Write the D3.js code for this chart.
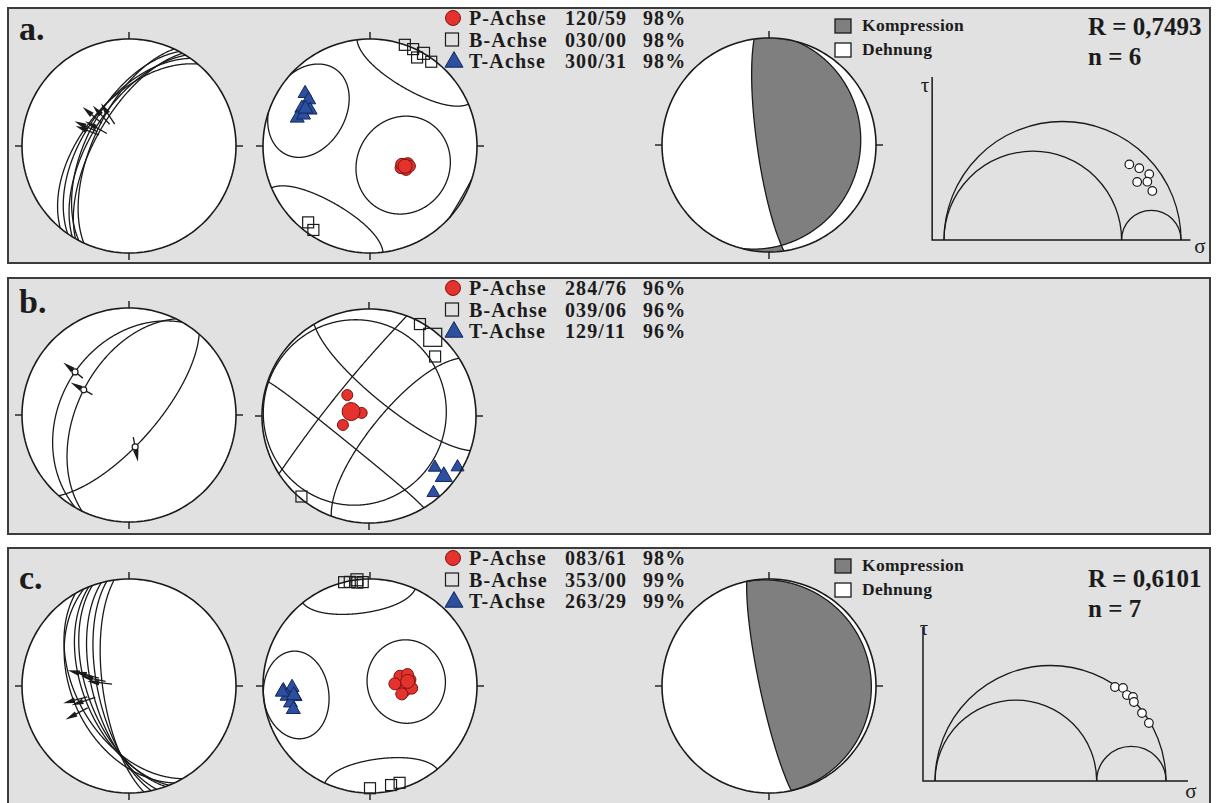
<!DOCTYPE html>
<html lang="de">
<head>
<meta charset="utf-8">
<title>Störungsflächenanalyse</title>
<script src="https://cdn.jsdelivr.net/npm/d3@7/dist/d3.min.js"></script>
<style>
  html, body { margin: 0; padding: 0; background: #ffffff; }
  svg { display: block; }
  .bold { font-family: "Liberation Serif", "Times New Roman", serif; font-weight: bold; fill: #1c1c1c; }
  .greek { font-family: "Liberation Serif", "Times New Roman", serif; fill: #1c1c1c; }
</style>
</head>
<body>
<svg id="fig" width="1216" height="803"></svg>
<script>
// ---------------- data ----------------
const panelLetters = ["a.", "b.", "c."];
const axisNames = ["P-Achse", "B-Achse", "T-Achse"];
const sectorNames = ["Kompression", "Dehnung"];

// Panel a -- mean axes [trend, plunge] (P, B, T), confidence %, cone half-angles
const meanAxesA = [[120, 59], [30, 0], [300, 31]];
const confA = [98, 98, 98];
const coneA = [37, 37, 33];
const pAxesA = [[118, 60], [123, 57], [115, 58], [125, 61], [120, 62], [117, 56]];
const bAxesA = [[19, 0], [24, 1], [28, 7], [36, 3], [219, 9], [214, 6]];
const tAxesA = [[309, 23], [307, 29], [299, 28], [301, 35], [291, 28], [295, 32]];
// fault planes [dip direction, dip, rake]
const faultsA = [[295, 63, 92], [298, 58, 86], [302, 61, 98], [305, 56, 84], [300, 65, 102], [310, 55, 90]];
// nodal planes [dip direction, dip]
const nodalA = [[262, 81], [105, 16]];
const ratioA = 0.7493, countA = 6;
const mohrA = [[0.782, 0.319], [0.824, 0.303], [0.866, 0.278], [0.815, 0.245], [0.858, 0.246], [0.879, 0.207]];

// Panel b
const meanAxesB = [[284, 76], [39, 6], [129, 11]];
const confB = [96, 96, 96];
const coneB = [75, 70, 72];
const pAxesB = [[314, 67], [293, 84], [251, 69]];
const bAxesB = [[29, 2], [48, 18], [220, 2]];
const tAxesB = [[128, 23], [120, 5], [140, 7]];
const faultsB = [[300, 36, 97], [296, 50, 92], [131, 70, 105]];

// Panel c
const meanAxesC = [[83, 61], [353, 0], [263, 29]];
const confC = [98, 99, 99];
const coneC = [31, 32, 29];
const pAxesC = [[72, 66], [81, 59], [97, 63], [85, 71], [93, 58], [104, 65], [73, 60]];
const bAxesC = [[349, 1], [353, 3], [356, 3], [346, 0], [180, 5], [168, 6], [163, 6]];
const tAxesC = [[267, 20], [269, 28], [263, 23], [262, 30], [258, 25], [253, 26], [266, 19]];
const faultsC = [[262, 70, 95], [258, 66, 100], [255, 62, 105], [250, 58, 110], [248, 55, 92], [240, 50, 100], [245, 46, 88]];
const nodalC = [[258, 83], [78, 5]];
const ratioC = 0.6101, countC = 7;
const stressC = [0, 0.70, 1];   // σ3, σ2, σ1 (normalised)
const mohrC = [[0.779, 0.407], [0.814, 0.403], [0.831, 0.372], [0.857, 0.364], [0.861, 0.342], [0.896, 0.294], [0.926, 0.251]];

// ---------------- styling ----------------
const INK = "#1a1a1a";
const P_FILL = "#e5322d", P_EDGE = "#7d1512";
const T_FILL = "#2d4f9f", T_EDGE = "#13275e";
const SECTOR_GRAY = "#7f7f7f";
const PANEL_FILL = "#e1e1e1";
const NET_R = 107;

const svg = d3.select("#fig");
const defs = svg.append("defs");

// ---------------- helpers ----------------
const asGeo = ([trend, plunge]) => [trend, -plunge];          // line -> lon/lat (lower hemisphere = south)
const antipode = ([lon, lat]) => [lon + 180, -lat];
const fmtTP = ([t, p]) => d3.format("03d")(t) + "/" + d3.format("02d")(p);

function makeProjection(cx, cy) {
  return d3.geoAzimuthalEqualArea()
    .rotate([0, 90])                 // nadir in the centre (Schmidt net, lower hemisphere)
    .scale(NET_R / Math.SQRT2)
    .translate([cx, cy])
    .clipAngle(90)
    .precision(0.1);
}

function ringLine(center, radius) {
  const ring = d3.geoCircle().center(center).radius(radius).precision(0.5)().coordinates[0];
  return {type: "LineString", coordinates: ring};
}
const planePole = ([dd, dip]) => [dd + 180, dip - 90];

function netBase(g, proj) {
  const path = d3.geoPath(proj);
  g.append("path").datum({type: "Sphere"}).attr("d", path).attr("fill", "#fff");
  return path;
}
function netFrame(g, proj) {
  const path = d3.geoPath(proj);
  const [cx, cy] = proj.translate();
  g.append("path").datum({type: "Sphere"}).attr("d", path)
    .attr("fill", "none").attr("stroke", INK).attr("stroke-width", 1.6);
  [0, 90, 180, 270].forEach(az => {
    const a = az * Math.PI / 180, s = Math.sin(a), c = -Math.cos(a);
    g.append("line")
      .attr("x1", cx + NET_R * s).attr("y1", cy + NET_R * c)
      .attr("x2", cx + (NET_R + 7) * s).attr("y2", cy + (NET_R + 7) * c)
      .attr("stroke", INK).attr("stroke-width", 1.4);
  });
}

function lineation([dd, dip, rake]) {
  const s0 = [dd - 90, 0], d0 = [dd, -dip], s1 = [dd + 90, 0];
  return rake <= 90 ? d3.geoInterpolate(s0, d0)(rake / 90)
                    : d3.geoInterpolate(d0, s1)((rake - 90) / 90);
}

// fault planes with slip arrows
function faultNet(g, cx, cy, faults, ringed) {
  const proj = makeProjection(cx, cy);
  const path = netBase(g, proj);
  g.selectAll(null).data(faults).join("path")
    .attr("d", f => path(ringLine(planePole(f), 90)))
    .attr("fill", "none").attr("stroke", INK).attr("stroke-width", 1.3);
  faults.forEach(f => {
    const p = proj(lineation(f));
    let ux = p[0] - cx, uy = p[1] - cy;
    const len = Math.hypot(ux, uy) || 1; ux /= len; uy /= len;
    const nx = -uy, ny = ux;
    g.append("line")
      .attr("x1", p[0] - 10 * ux).attr("y1", p[1] - 10 * uy)
      .attr("x2", p[0] + 5 * ux).attr("y2", p[1] + 5 * uy)
      .attr("stroke", INK).attr("stroke-width", 1.3);
    g.append("path")
      .attr("d", `M${p[0] + 15 * ux},${p[1] + 15 * uy}L${p[0] + 3 * ux + 2.8 * nx},${p[1] + 3 * uy + 2.8 * ny}L${p[0] + 3 * ux - 2.8 * nx},${p[1] + 3 * uy - 2.8 * ny}Z`)
      .attr("fill", INK);
    if (ringed) {
      g.append("circle").attr("cx", p[0]).attr("cy", p[1]).attr("r", 3)
        .attr("fill", "#fff").attr("stroke", INK).attr("stroke-width", 1.2);
    }
  });
  netFrame(g, proj);
}

function markP(g, p, r) {
  g.append("circle").attr("cx", p[0]).attr("cy", p[1]).attr("r", r)
    .attr("fill", P_FILL).attr("stroke", P_EDGE).attr("stroke-width", 1);
}
function markB(g, p, s) {
  g.append("rect").attr("x", p[0] - s / 2).attr("y", p[1] - s / 2).attr("width", s).attr("height", s)
    .attr("fill", "none").attr("stroke", INK).attr("stroke-width", 1.2);
}
function markT(g, p, s) {
  g.append("path").attr("transform", `translate(${p[0]},${p[1]})`)
    .attr("d", d3.symbol(d3.symbolTriangle, Math.sqrt(3) / 4 * s * s)())
    .attr("fill", T_FILL).attr("stroke", T_EDGE).attr("stroke-width", 1);
}

// principal axes with confidence cones
function axesNet(g, cx, cy, means, cones, pAx, bAx, tAx, sz) {
  const proj = makeProjection(cx, cy);
  const path = netBase(g, proj);
  means.forEach((m, i) => {
    [asGeo(m), antipode(asGeo(m))].forEach(c => {
      g.append("path").attr("d", path(ringLine(c, cones[i])))
        .attr("fill", "none").attr("stroke", INK).attr("stroke-width", 1.3);
    });
  });
  const pos = a => proj(asGeo(a));
  bAx.forEach(a => markB(g, pos(a), sz.b));
  markB(g, pos(means[1]), sz.bm);
  tAx.forEach(a => markT(g, pos(a), sz.t));
  markT(g, pos(means[2]), sz.tm);
  pAx.forEach(a => markP(g, pos(a), sz.p));
  markP(g, pos(means[0]), sz.pm);
  netFrame(g, proj);
}

// fault plane solution (compression / extension dihedra)
let clipId = 0;
function ballNet(g, cx, cy, nodal) {
  const proj = makeProjection(cx, cy);
  const path = netBase(g, proj);
  const hemi = c => d3.geoCircle().center(c).radius(90).precision(0.5)();
  const pa = planePole(nodal[0]), pb = planePole(nodal[1]);
  [[pa, pb], [antipode(pa), antipode(pb)]].forEach(([ca, cb]) => {
    const id = "sector" + (clipId++);
    defs.append("clipPath").attr("id", id).append("path").attr("d", path(hemi(cb)));
    g.append("path").attr("d", path(hemi(ca))).attr("clip-path", `url(#${id})`)
      .attr("fill", SECTOR_GRAY);
  });
  nodal.forEach(n => {
    g.append("path").attr("d", path(ringLine(planePole(n), 90)))
      .attr("fill", "none").attr("stroke", INK).attr("stroke-width", 1.3);
  });
  netFrame(g, proj);
}

// Mohr circles
function mohr(g, o) {
  const x = d3.scaleLinear().domain([0, 1]).range([o.x0, o.x1]);
  const unit = o.x1 - o.x0;
  const y = d3.scaleLinear().domain([0, 1]).range([o.base, o.base - unit]);
  g.append("path")
    .attr("d", `M${x(o.sMin)},${y(o.tMax)}V${y(0)}H${x(o.sMax)}`)
    .attr("fill", "none").attr("stroke", INK).attr("stroke-width", 1.5);
  const [s3, s2, s1] = o.stress;
  [[s3, s1], [s3, s2], [s2, s1]].forEach(([a, b]) => {
    const p = d3.path();
    const cxp = x((a + b) / 2), r = x(b) - x((a + b) / 2);
    p.moveTo(x(a), y(0));
    p.arc(cxp, y(0), r, Math.PI, 2 * Math.PI);
    g.append("path").attr("d", p.toString()).attr("fill", "none")
      .attr("stroke", INK).attr("stroke-width", 1.3);
  });
  g.selectAll(null).data(o.pts).join("circle")
    .attr("cx", d => x(d[0])).attr("cy", d => y(d[1])).attr("r", 4.3)
    .attr("fill", "#fff").attr("stroke", INK).attr("stroke-width", 1.2);
  g.append("text").attr("class", "greek").attr("font-size", 21).attr("text-anchor", "middle")
    .attr("x", o.tauPos[0]).attr("y", o.tauPos[1]).text("τ");
  g.append("text").attr("class", "greek").attr("font-size", 21).attr("text-anchor", "middle")
    .attr("x", o.sigPos[0]).attr("y", o.sigPos[1]).text("σ");
}

function axesLegend(g, top, means, conf) {
  means.forEach((m, i) => {
    const cy = top + 10 + i * 21.5;
    if (i === 0) markP(g, [453, cy], 7.5);
    if (i === 1) markB(g, [452, cy], 13);
    if (i === 2) markT(g, [454, cy + 1], 18);
    const t = g.append("g").attr("class", "bold").attr("font-size", 20).attr("letter-spacing", 1.1);
    t.append("text").attr("x", 469).attr("y", cy + 7).text(axisNames[i]);
    t.append("text").attr("x", 565).attr("y", cy + 7).text(fmtTP(m));
    t.append("text").attr("x", 643).attr("y", cy + 7).text(conf[i] + "%");
  });
}
function sectorLegend(g, top) {
  [SECTOR_GRAY, "#fff"].forEach((f, i) => {
    g.append("rect").attr("x", 835).attr("y", top + 11 + i * 24).attr("width", 16).attr("height", 14)
      .attr("fill", f).attr("stroke", INK).attr("stroke-width", 1.3);
    g.append("text").attr("class", "bold").attr("font-size", 17.5).attr("letter-spacing", 0.3)
      .attr("x", 862).attr("y", top + 23 + i * 23.5).text(sectorNames[i]);
  });
}
function stats(g, yR, ratio, n) {
  const t = g.append("g").attr("class", "bold").attr("font-size", 25);
  t.append("text").attr("x", 1088).attr("y", yR).text("R = " + d3.format(".4f")(ratio).replace(".", ","));
  t.append("text").attr("x", 1088).attr("y", yR + 30).text("n = " + n);
}

// ---------------- panels ----------------
const frames = [
  {x: 8, y: 8, w: 1202, h: 255, label: 40},
  {x: 8, y: 278, w: 1202, h: 256, label: 313},
  {x: 8, y: 548, w: 1202, h: 262, label: 589},
];
frames.forEach((f, i) => {
  svg.append("rect").attr("x", f.x).attr("y", f.y).attr("width", f.w).attr("height", f.h)
    .attr("fill", PANEL_FILL).attr("stroke", "#3c3c3c").attr("stroke-width", 2);
  svg.append("text").attr("class", "bold").attr("font-size", 34)
    .attr("x", f.x + 11).attr("y", f.label).text(panelLetters[i]);
});

const sizesSmall = {p: 6, pm: 7, b: 11, bm: 12, t: 14, tm: 15};
const sizesBig = {p: 5.5, pm: 9, b: 11, bm: 18, t: 13, tm: 17};

// a
const gA = svg.append("g");
faultNet(gA, 129, 146, faultsA, false);
axesNet(gA, 370, 146, meanAxesA, coneA, pAxesA, bAxesA, tAxesA, sizesSmall);
ballNet(gA, 769, 145, nodalA);
axesLegend(gA, 8, meanAxesA, confA);
sectorLegend(gA, 8);
stats(gA, 35, ratioA, countA);
mohr(gA, {x0: 944, x1: 1181, base: 240, sMin: -0.05, sMax: 1.04, tMax: 0.688,
  stress: [0, ratioA, 1], pts: mohrA, tauPos: [925, 92], sigPos: [1200, 253]});

// b
const gB = svg.append("g");
faultNet(gB, 129, 415, faultsB, true);
axesNet(gB, 369, 416, meanAxesB, coneB, pAxesB, bAxesB, tAxesB, sizesBig);
axesLegend(gB, 278, meanAxesB, confB);

// c
const gC = svg.append("g");
faultNet(gC, 129, 686, faultsC, false);
axesNet(gC, 370, 686, meanAxesC, coneC, pAxesC, bAxesC, tAxesC, sizesSmall);
ballNet(gC, 769, 686, nodalC);
axesLegend(gC, 548, meanAxesC, confC);
sectorLegend(gC, 548);
stats(gC, 587, ratioC, countC);
mohr(gC, {x0: 935, x1: 1166, base: 781, sMin: -0.052, sMax: 1.095, tMax: 0.667,
  stress: stressC, pts: mohrC, tauPos: [924, 635], sigPos: [1191, 798]});
</script>
</body>
</html>
